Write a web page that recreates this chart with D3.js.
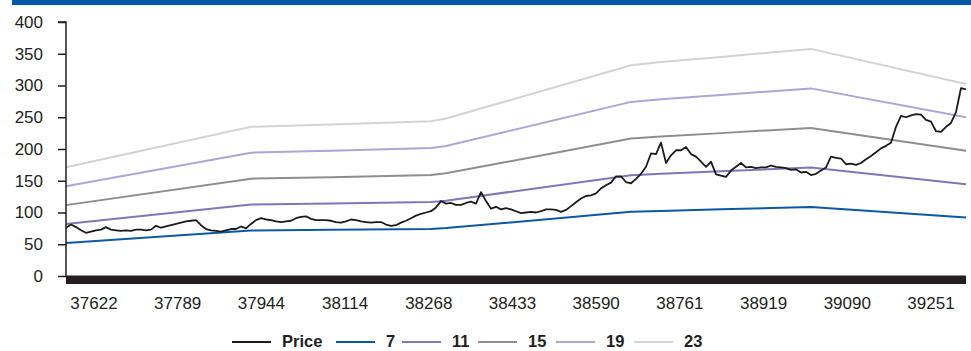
<!DOCTYPE html>
<html>
<head>
<meta charset="utf-8">
<script src="https://cdn.jsdelivr.net/npm/d3@7"></script>
<style>
  body { margin: 0; background: #fff; }
  svg { display: block; }
  text { font-family: "Liberation Sans", Arial, sans-serif; fill: #231f20; }
</style>
</head>
<body>
<svg id="chart" width="971" height="351"></svg>
<script>
// Share price, one reading per sample step along the category axis
const price = [
  76, 81, 77, 72, 68, 70, 72, 73, 77, 73,
  72, 71, 72, 71, 73, 73, 72, 73, 79, 76,
  78, 80, 82, 84, 86, 87, 88, 80, 74, 72,
  71, 70, 72, 74, 74, 78, 75, 82, 88, 91,
  89, 88, 86, 85, 86, 87, 91, 93, 94, 90,
  88, 88, 88, 87, 85, 84, 86, 89, 88, 86,
  85, 84, 85, 85, 81, 79, 80, 84, 87, 91,
  95, 98, 100, 102, 108, 118, 114, 115, 112, 112,
  115, 117, 114, 132, 118, 106, 109, 105, 107, 105,
  102, 99, 100, 101, 100, 102, 105, 105, 104, 101,
  104, 110, 116, 122, 126, 127, 130, 138, 143, 147,
  157, 157, 148, 146, 153, 161, 172, 193, 192, 210,
  178, 190, 198, 198, 203, 192, 188, 180, 172, 180,
  160, 158, 156, 166, 172, 178, 171, 172, 170, 171,
  171, 174, 172, 171, 170, 167, 168, 163, 164, 159,
  161, 166, 171, 188, 186, 185, 176, 177, 175, 178,
  184, 189, 195, 201, 205, 210, 235, 252, 250, 253,
  255, 254, 246, 243, 228, 227, 235, 241, 258, 296,
  294
];

// Earnings per share at the sample steps where its trend changes
const epsIndex = [0, 37, 53, 73, 76, 113, 119, 131, 149, 180];
const epsValue = [7.44, 10.22, 10.38, 10.6, 10.78, 14.43, 14.65, 15.0, 15.55, 13.15];

// P/E multiples drawn as bands
const multiples = [7, 11, 15, 19, 23];

// Category labels along the bottom (date serials)
const xTickLabels = ['37622', '37789', '37944', '38114', '38268', '38433',
                     '38590', '38761', '38919', '39090', '39251'];

const yTicks = [0, 50, 100, 150, 200, 250, 300, 350, 400];

// ---- styling ----
const bandColor = { 7: '#0b59a6', 11: '#8176bb', 15: '#8e8e8e', 19: '#aca5da', 23: '#d3d3d3' };
const priceColor = '#1b1b1b';

const svg = d3.select('#chart');
const W = 971, H = 351;
const plotLeft = 66, plotRight = 966, plotTop = 22, plotBottom = 276;

const x = d3.scaleLinear().domain([0, price.length - 1]).range([plotLeft, plotRight]);
const y = d3.scaleLinear().domain([0, 400]).range([plotBottom, plotTop]);

// header rule
svg.append('rect').attr('x', 12).attr('y', 0).attr('width', W - 12).attr('height', 5)
  .attr('fill', '#0058a6');

// P/E bands
const bandLine = d3.line().x(d => x(d[0])).y(d => y(d[1]));
multiples.slice().reverse().forEach(m => {
  const pts = epsIndex.map((i, j) => [i, epsValue[j] * m]);
  svg.append('path')
    .datum(pts)
    .attr('d', bandLine)
    .attr('fill', 'none')
    .attr('stroke', bandColor[m])
    .attr('stroke-width', 2);
});

// price
const priceLine = d3.line().x((d, i) => x(i)).y(d => y(d));
svg.append('path')
  .datum(price)
  .attr('d', priceLine)
  .attr('fill', 'none')
  .attr('stroke', priceColor)
  .attr('stroke-width', 1.8)
  .attr('stroke-linejoin', 'round');

// y axis
const yAxis = d3.axisLeft(y).tickValues(yTicks).tickSize(8).tickPadding(15);
const gy = svg.append('g').attr('transform', `translate(${plotLeft},0)`).call(yAxis);
gy.select('.domain').attr('stroke', '#231f20').attr('stroke-width', 1.5)
  .attr('d', `M-8,${plotTop}H0V${plotBottom}`);
gy.selectAll('.tick line').attr('stroke', '#231f20').attr('stroke-width', 1.5);
gy.selectAll('.tick text').attr('font-size', 17).attr('fill', '#231f20')
  .attr('font-family', '"Liberation Sans", Arial, sans-serif');

// x axis: daily tick marks merge into a solid band under the zero line
svg.append('line').attr('x1', plotLeft).attr('x2', plotRight).attr('y1', plotBottom).attr('y2', plotBottom)
  .attr('stroke', '#231f20').attr('stroke-width', 1.2);
svg.append('rect').attr('x', plotLeft).attr('y', plotBottom).attr('width', plotRight - plotLeft).attr('height', 8)
  .attr('fill', '#231f20');

const firstLabelAt = 5.6, labelStep = 16.74;
svg.append('g').selectAll('text')
  .data(xTickLabels)
  .join('text')
  .attr('x', (d, k) => x(firstLabelAt + k * labelStep))
  .attr('y', 309)
  .attr('text-anchor', 'middle')
  .attr('font-size', 17)
  .text(d => d);

// legend
const legendItems = [{ name: 'Price', color: priceColor }]
  .concat(multiples.map(m => ({ name: String(m), color: bandColor[m] })));
const legendX = [232, 336, 402, 478, 556, 634];
const lg = svg.append('g');
legendItems.forEach((it, k) => {
  lg.append('line').attr('x1', legendX[k]).attr('x2', legendX[k] + 39)
    .attr('y1', 342).attr('y2', 342)
    .attr('stroke', it.color).attr('stroke-width', 2.2);
  lg.append('text').attr('x', legendX[k] + 50).attr('y', 347)
    .attr('font-size', 16.5).attr('font-weight', 'bold').text(it.name);
});
</script>
</body>
</html>
